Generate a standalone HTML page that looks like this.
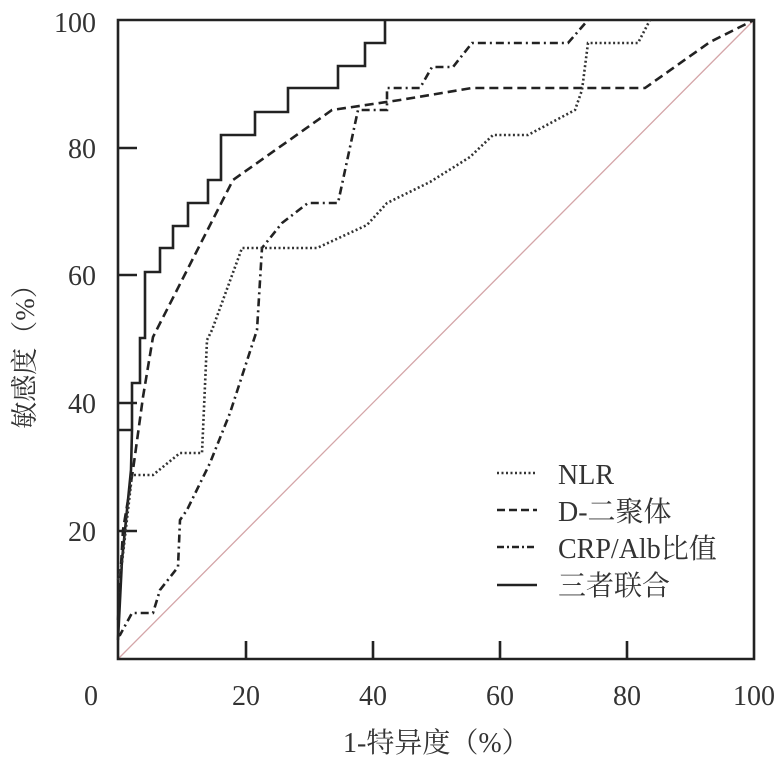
<!DOCTYPE html>
<html><head><meta charset="utf-8"><style>
html,body{margin:0;padding:0;background:#fff;}
svg{display:block;}
text{font-family:"Liberation Serif","Noto Serif CJK SC",serif;fill:#333;}
</style></head><body>
<svg width="784" height="757" viewBox="0 0 784 757" xmlns="http://www.w3.org/2000/svg">
<line x1="118" y1="659" x2="754" y2="20" stroke="#d4a5a8" stroke-width="1.3"/>
<g fill="none" stroke="#222" stroke-width="2.6">
<path d="M118,20 H754 V659 H118 Z"/>
<path d="M118,148 H137 M118,275 H137 M118,403 H137 M118,531 H137"/>
<path d="M246,659 V641 M373,659 V641 M500,659 V641 M627,659 V641"/>
</g>
<path fill="none" stroke="#222" stroke-width="2.6" d="M118,640 L122,560 L125,530 L131,470 L132,430 H118 M132,430 V383 H140 V338 H145 V272 H160 V248 H173 V226 H188 V203 H208 V180 H221 V135 H255 V112 H288 V88 H338 V66 H365 V43 H385 V20"/>
<path fill="none" stroke="#222" stroke-width="2.6" stroke-dasharray="9,5" d="M118,620 L123,530 L133,470 L143,397 L153,337 L233,180 L332,110 L400,100 L472,88 L645,88 L710,42 L754,20"/>
<path fill="none" stroke="#222" stroke-width="2.6" stroke-dasharray="8,4,2,4" d="M118,636 L120,635 L132,613 H153 L160,590 L178,567 L180,520 L187,510 L210,463 L230,413 L257,330 L262,248 L282,223 L308,203 H338 L358,110 H387 V88 H420 L432,67 H453 L472,43 H568 L588,20"/>
<path fill="none" stroke="#333" stroke-width="2.6" stroke-dasharray="2,2.5" d="M118,580 L122,563 L132,475 H153 L180,453 H202 L207,340 L212,330 L242,248 H317 L367,225 L387,203 L430,182 L470,157 L493,135 H528 L575,110 L582,90 L588,43 H638 L650,20"/>
<g stroke-width="2.6" stroke="#222">
<line x1="497" y1="473" x2="537" y2="473" stroke-dasharray="2,2.5" stroke="#333"/>
<line x1="497" y1="510" x2="537" y2="510" stroke-dasharray="8,4"/>
<line x1="497" y1="547" x2="537" y2="547" stroke-dasharray="7,3,2,3"/>
<line x1="497" y1="585" x2="537" y2="585"/>
</g>
<g font-size="28">
<text x="558" y="484">NLR</text>
<text x="558" y="521">D-二聚体</text>
<text x="558" y="558">CRP/Alb比值</text>
<text x="558" y="595">三者联合</text>
</g>
<g font-size="28" text-anchor="end">
<text x="96" y="32">100</text>
<text x="96" y="158">80</text>
<text x="96" y="285">60</text>
<text x="96" y="413">40</text>
<text x="96" y="541">20</text>
</g>
<g font-size="28" text-anchor="middle">
<text x="91" y="705">0</text>
<text x="246" y="705">20</text>
<text x="373" y="705">40</text>
<text x="500" y="705">60</text>
<text x="627" y="705">80</text>
<text x="754" y="705">100</text>
<text transform="translate(34,350) rotate(-90)" font-size="27">敏感度（%）</text>
</g>
<text x="343" y="752" font-size="28">1-特异度（%）</text>
</svg>
</body></html>
